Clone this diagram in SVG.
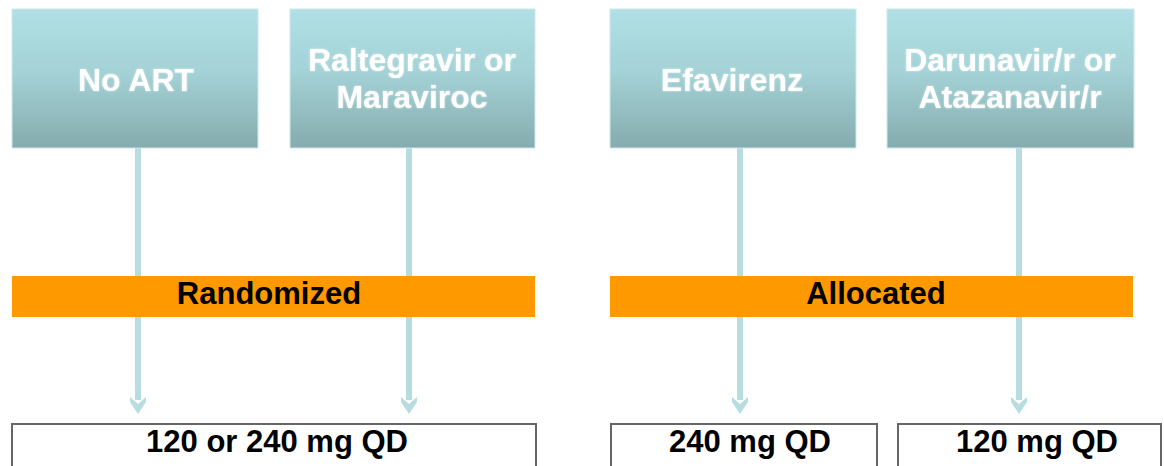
<svg xmlns="http://www.w3.org/2000/svg" width="1164" height="466" viewBox="0 0 1164 466">
<defs>
<linearGradient id="tg" x1="0" y1="0" x2="0" y2="1">
<stop offset="0" stop-color="#b0e0e5"/>
<stop offset="0.45" stop-color="#a4d2d6"/>
<stop offset="1" stop-color="#85acae"/>
</linearGradient>
<filter id="glow" x="-10%" y="-30%" width="120%" height="160%">
<feGaussianBlur in="SourceAlpha" stdDeviation="1.2" result="b"/>
<feFlood flood-color="#ffffff" flood-opacity="0.6"/>
<feComposite in2="b" operator="in" result="g"/>
<feMerge><feMergeNode in="g"/><feMergeNode in="SourceGraphic"/></feMerge>
</filter>
</defs>
<style>
.top{fill:url(#tg);stroke:#cfe9ec;stroke-width:1}
.tt{font-family:"Liberation Sans",Arial,sans-serif;font-weight:bold;font-size:32px;fill:#ffffff;text-anchor:middle}
.bar{fill:#ff9900}
.bt{font-family:"Liberation Sans",Arial,sans-serif;font-weight:bold;font-size:31px;fill:#000000;text-anchor:middle}
.bot{fill:#ffffff;stroke:#666666;stroke-width:2}
.con{stroke:#b8dde1;stroke-width:6;fill:none}
.ah{fill:#b8dde1}
</style>
<g id="connectors">
<line class="con" x1="138" y1="148" x2="138" y2="400"/>
<line class="con" x1="409" y1="148" x2="409" y2="400"/>
<line class="con" x1="740" y1="148" x2="740" y2="400"/>
<line class="con" x1="1019" y1="148" x2="1019" y2="400"/>
<path class="ah" d="M130,397 L138,404 L146,397 L146,402 L138,414 L130,402 Z"/>
<path class="ah" d="M401,397 L409,404 L417,397 L417,402 L409,414 L401,402 Z"/>
<path class="ah" d="M732,397 L740,404 L748,397 L748,402 L740,414 L732,402 Z"/>
<path class="ah" d="M1011,397 L1019,404 L1027,397 L1027,402 L1019,414 L1011,402 Z"/>
</g>
<g id="noart">
<rect class="top" x="12" y="9" width="246" height="139"/>
<text class="tt" x="136" y="91" filter="url(#glow)">No ART</text>
</g>
<g id="raltegravir">
<rect class="top" x="290" y="9" width="245" height="139"/>
<text class="tt" x="412" y="71" filter="url(#glow)">Raltegravir or</text>
<text class="tt" x="412" y="108" filter="url(#glow)">Maraviroc</text>
</g>
<g id="efavirenz">
<rect class="top" x="610" y="9" width="246" height="139"/>
<text class="tt" x="732" y="91" filter="url(#glow)">Efavirenz</text>
</g>
<g id="darunavir">
<rect class="top" x="887" y="9" width="247" height="139"/>
<text class="tt" x="1010" y="71" filter="url(#glow)">Darunavir/r or</text>
<text class="tt" x="1010" y="108" filter="url(#glow)">Atazanavir/r</text>
</g>
<g id="randomized">
<rect class="bar" x="12" y="276" width="523" height="41"/>
<text class="bt" x="269" y="304">Randomized</text>
</g>
<g id="allocated">
<rect class="bar" x="610" y="276" width="523" height="41"/>
<text class="bt" x="876" y="304">Allocated</text>
</g>
<g id="dose1">
<rect class="bot" x="12" y="424" width="524" height="50"/>
<text class="bt" x="277" y="452">120 or 240 mg QD</text>
</g>
<g id="dose2">
<rect class="bot" x="611" y="424" width="266" height="50"/>
<text class="bt" x="750" y="452">240 mg QD</text>
</g>
<g id="dose3">
<rect class="bot" x="898" y="424" width="263" height="50"/>
<text class="bt" x="1037" y="452">120 mg QD</text>
</g>
</svg>
